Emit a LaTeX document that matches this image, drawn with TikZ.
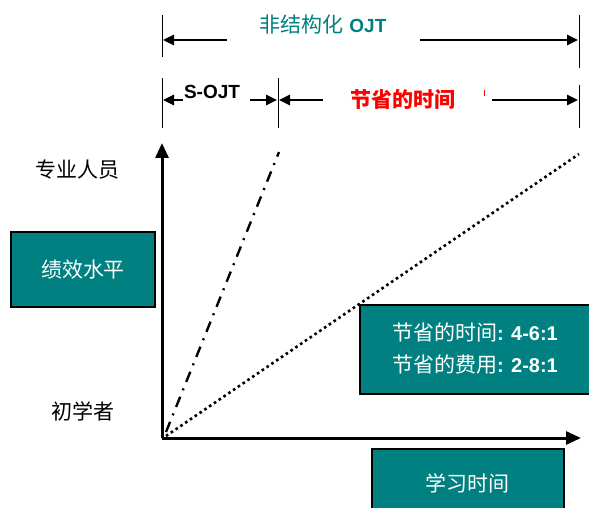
\documentclass[tikz,border=0pt]{standalone}
\usepackage{fontspec}
\setmainfont{Liberation Sans}
\newfontfamily\cjk{Noto Sans CJK SC}
\usetikzlibrary{arrows.meta}
\definecolor{tealbox}{RGB}{0,128,128}
\begin{document}
\begin{tikzpicture}[x=1pt,y=-1pt,
  tick/.style={line width=0.9pt},
  dimarrow/.style={line width=2.6pt,-{Triangle[length=11pt,width=10pt]}},
  axis/.style={line width=3pt,-{Triangle[length=15pt,width=13pt]}},
  lbl/.style={inner sep=0pt,font=\fontsize{21}{24}\selectfont},
  tbox/.style={draw=black,line width=1.6pt,fill=tealbox,text=white,inner sep=0pt,
    font=\fontsize{21}{24}\selectfont,align=center}]
\useasboundingbox (0,0) rectangle (589,508);
\clip (0,0) rectangle (589,508);
% ticks
\coordinate (t1a) at (162,15); \coordinate (t1b) at (162,57);
\coordinate (t2a) at (579,15); \coordinate (t2b) at (579,68);
\coordinate (t3a) at (162,78); \coordinate (t3b) at (162,128);
\coordinate (t4a) at (278,78); \coordinate (t4b) at (278,128);
\coordinate (t5a) at (579,85); \coordinate (t5b) at (579,128);
\draw[tick] (t1a) -- (t1b);
\draw[tick] (t2a) -- (t2b);
\draw[tick] (t3a) -- (t3b);
\draw[tick] (t4a) -- (t4b);
\draw[tick] (t5a) -- (t5b);
% top dimension
\node[lbl,text=tealbox] (ojt) at (323,25) {{\cjk 非结构化} {\fontsize{19}{22}\selectfont\bfseries OJT}};
\coordinate (a1s) at (227,40); \coordinate (a1e) at (163,40);
\coordinate (a2s) at (420,40); \coordinate (a2e) at (578,40);
\draw[dimarrow] (a1s) -- (a1e);
\draw[dimarrow] (a2s) -- (a2e);
% second row
\node[lbl,font=\fontsize{19}{22}\selectfont\bfseries] (sojt) at (212,92) {S-OJT};
\coordinate (b1s) at (183,100); \coordinate (b1e) at (163,100);
\coordinate (b2s) at (250,100); \coordinate (b2e) at (277,100);
\draw[dimarrow] (b1s) -- (b1e);
\draw[dimarrow] (b2s) -- (b2e);
\node[lbl,text=red,font=\cjk\fontsize{21}{24}\selectfont\bfseries] (saved) at (403,100) {节省的时间};
\coordinate (c1s) at (323,100); \coordinate (c1e) at (279,100);
\coordinate (c2s) at (492,100); \coordinate (c2e) at (578,100);
\draw[dimarrow] (c1s) -- (c1e);
\draw[dimarrow] (c2s) -- (c2e);
\coordinate (r1) at (484,90); \coordinate (r2) at (484,96);
\draw[red,line width=0.9pt] (r1) -- (r2);
% axes
\coordinate (O) at (162,438);
\coordinate (Y) at (162,143);
\coordinate (X) at (581,438);
\draw[axis] (O) -- (Y);
\draw[axis] (O) -- (X);
% lines
\coordinate (d1s) at (166,432); \coordinate (d1e) at (279,152);
\draw[line width=2.4pt,dash pattern=on 11pt off 7pt on 2pt off 7pt] (d1s) -- (d1e);
\coordinate (d2s) at (166,436); \coordinate (d2e) at (579,154);
\draw[line width=2.6pt,dash pattern=on 2.6pt off 3.2pt] (d2s) -- (d2e);
% labels
\node[lbl,font=\cjk\fontsize{21}{24}\selectfont] (pro) at (77,170) {专业人员};
\node[lbl,font=\cjk\fontsize{21}{24}\selectfont] (nov) at (83,411) {初学者};
% boxes
\node[tbox,minimum width=144pt,minimum height=75pt,font=\cjk\fontsize{21}{24}\selectfont] (perf) at (83,269.5) {绩效水平};
\node[tbox,minimum width=234pt,minimum height=89pt,anchor=north west] (sav) at (359,304) {};
\node[inner sep=0pt,text=white,align=center,font=\fontsize{21}{32}\selectfont] (savt) at (475,349)
  {{\cjk 节省的时间}{\fontsize{20}{32}\selectfont\bfseries: 4-6:1}\\{\cjk 节省的费用}{\fontsize{20}{32}\selectfont\bfseries: 2-8:1}};
\node[tbox,minimum width=192pt,minimum height=70pt,anchor=north west] (learn) at (371,448) {};
\node[inner sep=0pt,text=white,font=\cjk\fontsize{21}{24}\selectfont] (learnt) at (467,483) {学习时间};
\end{tikzpicture}
\end{document}
